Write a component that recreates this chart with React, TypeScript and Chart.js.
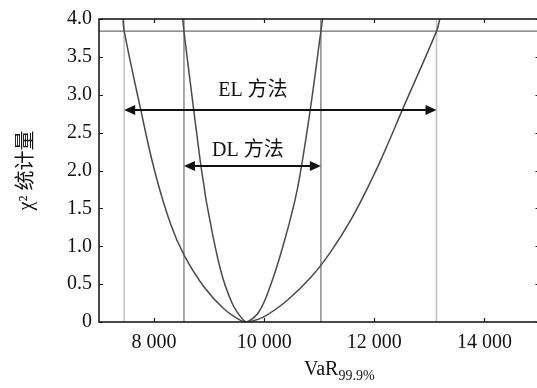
import { useEffect, useRef } from "react";
import { Chart, registerables } from "chart.js";

Chart.register(...registerables);

// ---- data ----
const xRange = [7000, 15000];
const yRange = [0, 4];
const xTickValues = [8000, 10000, 12000, 14000];
const yTickValues = [0, 0.5, 1, 1.5, 2, 2.5, 3, 3.5, 4];
const yTickLabels = ["0", "0.5", "1.0", "1.5", "2.0", "2.5", "3.0", "3.5", "4.0"];

// EL method chi-square profile
const elVaR = [7435, 7457, 7747, 8013, 8302, 8543, 8905, 9267, 9569, 9690, 9991, 10415, 10836, 11198, 11576, 11975, 12247, 12519, 13130, 13190];
const elChi2 = [4.0, 3.84, 2.839, 1.987, 1.29, 0.886, 0.465, 0.174, 0.022, 0, 0.068, 0.284, 0.58, 0.916, 1.35, 1.917, 2.353, 2.817, 3.84, 4.0];

// DL method chi-square profile
const dlVaR = [8520, 8543, 8620, 8845, 8900, 8955, 9200, 9420, 9625, 9690, 9900, 10112, 10353, 10547, 10655, 10836, 11030, 11060];
const dlChi2 = [4.0, 3.84, 3.38, 2.09, 1.83, 1.57, 0.71, 0.245, 0.022, 0, 0.129, 0.477, 1.032, 1.57, 1.96, 2.8, 3.84, 4.0];

const criticalValue = 3.84;
const elBounds = [7457, 13130];
const dlBounds = [8543, 11030];
const arrowLevels = [2.8, 2.06]; // EL, DL
const methodLabels = ["EL 方法", "DL 方法"];
const labelPos = [
  [9795, 3.05],
  [9705, 2.26],
];
const yTitle = "χ² 统计量";
const xTitleMain = "VaR";
const xTitleSub = "99.9%";

const FONT = "'Liberation Serif', 'Noto Sans CJK SC', serif";

const pts = (xs: number[], ys: number[]) => xs.map((x, i) => ({ x, y: ys[i] }));
const vline = (v: number) => [
  { x: v, y: yRange[0] },
  { x: v, y: yRange[1] },
];
const fmtThousands = (v: number) => String(v).replace(/\B(?=(\d{3})+(?!\d))/g, " ");

function drawArrow(ctx: CanvasRenderingContext2D, x1: number, x2: number, y: number) {
  const hl = 11;
  const hw = 5;
  ctx.beginPath();
  ctx.moveTo(x1 + hl - 1, y);
  ctx.lineTo(x2 - hl + 1, y);
  ctx.stroke();
  ctx.beginPath();
  ctx.moveTo(x1, y);
  ctx.lineTo(x1 + hl, y - hw);
  ctx.lineTo(x1 + hl, y + hw);
  ctx.closePath();
  ctx.fill();
  ctx.beginPath();
  ctx.moveTo(x2, y);
  ctx.lineTo(x2 - hl, y - hw);
  ctx.lineTo(x2 - hl, y + hw);
  ctx.closePath();
  ctx.fill();
}

const overlay = {
  id: "overlay",
  afterDatasetsDraw(chart: any) {
    const { ctx, chartArea: a, scales } = chart;
    const x = scales.x;
    const y = scales.y;
    ctx.save();
    // frame
    ctx.strokeStyle = "#1c1c1c";
    ctx.lineWidth = 1.6;
    ctx.strokeRect(a.left, a.top, a.right - a.left, a.bottom - a.top);
    // inward ticks
    ctx.lineWidth = 1.2;
    const tl = 4;
    ctx.beginPath();
    xTickValues.forEach((v) => {
      const px = Math.round(x.getPixelForValue(v)) + 0.5;
      ctx.moveTo(px, a.bottom);
      ctx.lineTo(px, a.bottom - tl);
      ctx.moveTo(px, a.top);
      ctx.lineTo(px, a.top + tl);
    });
    yTickValues.forEach((v) => {
      const py = Math.round(y.getPixelForValue(v)) + 0.5;
      ctx.moveTo(a.left, py);
      ctx.lineTo(a.left + tl, py);
      ctx.moveTo(a.right, py);
      ctx.lineTo(a.right - tl, py);
    });
    ctx.stroke();

    // arrows
    ctx.strokeStyle = "#111";
    ctx.fillStyle = "#111";
    ctx.lineWidth = 2;
    drawArrow(ctx, x.getPixelForValue(elBounds[0]), x.getPixelForValue(elBounds[1]), y.getPixelForValue(arrowLevels[0]));
    drawArrow(ctx, x.getPixelForValue(dlBounds[0]), x.getPixelForValue(dlBounds[1]), y.getPixelForValue(arrowLevels[1]));

    // labels
    ctx.font = `20px ${FONT}`;
    ctx.textAlign = "center";
    ctx.textBaseline = "middle";
    methodLabels.forEach((t, i) => {
      ctx.fillText(t, x.getPixelForValue(labelPos[i][0]), y.getPixelForValue(labelPos[i][1]));
    });

    // y title
    ctx.save();
    ctx.translate(27, (a.top + a.bottom) / 2);
    ctx.rotate(-Math.PI / 2);
    ctx.font = `20px ${FONT}`;
    ctx.fillText(yTitle, 0, 0);
    ctx.restore();

    // x title with subscript
    ctx.textAlign = "left";
    ctx.textBaseline = "alphabetic";
    ctx.font = `20px ${FONT}`;
    const w1 = ctx.measureText(xTitleMain).width;
    ctx.font = `14px ${FONT}`;
    const w2 = ctx.measureText(xTitleSub).width;
    const cx = (a.left + a.right) / 2 + 20;
    const sx = cx - (w1 + w2) / 2;
    const by = 375;
    ctx.font = `20px ${FONT}`;
    ctx.fillText(xTitleMain, sx, by);
    ctx.font = `14px ${FONT}`;
    ctx.fillText(xTitleSub, sx + w1, by + 5);
    ctx.restore();
  },
};

export default function App() {
  const ref = useRef<HTMLCanvasElement | null>(null);
  useEffect(() => {
    if (!ref.current) return;
    const curve = {
      showLine: true,
      borderColor: "#4a4a4a",
      borderWidth: 1.5,
      pointRadius: 0,
      tension: 0.4,
      order: 0,
    };
    const chart = new Chart(ref.current, {
      type: "scatter",
      data: {
        datasets: [
          { ...curve, label: "EL", data: pts(elVaR, elChi2) },
          { ...curve, label: "DL", data: pts(dlVaR, dlChi2) },
          {
            label: "crit",
            data: [
              { x: xRange[0], y: criticalValue },
              { x: xRange[1], y: criticalValue },
            ],
            showLine: true,
            borderColor: "#6e6e6e",
            borderWidth: 1.3,
            pointRadius: 0,
            order: 1,
          },
          ...elBounds.map((v) => ({
            label: "elb",
            data: vline(v),
            showLine: true,
            borderColor: "#c4c4c4",
            borderWidth: 1.6,
            pointRadius: 0,
            order: 2,
          })),
          ...dlBounds.map((v) => ({
            label: "dlb",
            data: vline(v),
            showLine: true,
            borderColor: "#7a7a7a",
            borderWidth: 1.3,
            pointRadius: 0,
            order: 2,
          })),
        ] as any,
      },
      options: {
        animation: false,
        responsive: false,
        events: [],
        layout: { autoPadding: false, padding: { top: 12, right: 8.5, bottom: 0, left: 0 } } as any,
        plugins: { legend: { display: false }, tooltip: { enabled: false } },
        scales: {
          x: {
            type: "linear",
            min: xRange[0],
            max: xRange[1],
            grid: { display: false, drawTicks: false },
            border: { display: false },
            afterBuildTicks: (s: any) => {
              s.ticks = xTickValues.map((v) => ({ value: v }));
            },
            afterFit: (s: any) => {
              s.height = 66;
            },
            ticks: {
              color: "#111",
              padding: 9,
              maxRotation: 0,
              font: { family: FONT, size: 20 },
              callback: (v: any) => fmtThousands(Number(v)),
            },
          },
          y: {
            type: "linear",
            min: yRange[0],
            max: yRange[1],
            grid: { display: false, drawTicks: false },
            border: { display: false },
            afterBuildTicks: (s: any) => {
              s.ticks = yTickValues.map((v) => ({ value: v }));
            },
            afterFit: (s: any) => {
              s.width = 99;
            },
            ticks: {
              color: "#111",
              padding: 7,
              font: { family: FONT, size: 20 },
              callback: (_v: any, i: number) => yTickLabels[i],
            },
          },
        },
      },
      plugins: [overlay],
    });
    return () => chart.destroy();
  }, []);

  return (
    <div
      style={{
        position: "fixed",
        left: 0,
        top: 0,
        width: 537,
        height: 388,
        overflow: "hidden",
        background: "#fff",
      }}
    >
      <canvas ref={ref} width={548} height={388} style={{ display: "block" }} />
    </div>
  );
}
